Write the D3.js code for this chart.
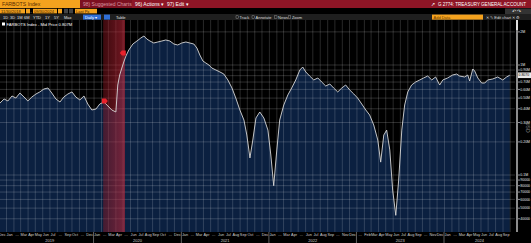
<!DOCTYPE html>
<html>
<head>
<meta charset="utf-8">
<script src="https://cdn.jsdelivr.net/npm/d3@7"></script>
<style>
  body { margin: 0; background: #000; }
  svg { display: block; font-family: "Liberation Sans", Arial, sans-serif; }
</style>
</head>
<body>
<div id="chart"></div>
<script>
// DATA (USD millions)
let tgaDates = [
  '2018-12-07','2018-12-24','2019-01-09','2019-01-26','2019-02-11','2019-02-28','2019-03-17','2019-04-02',
  '2019-04-19','2019-05-06','2019-05-22','2019-06-08','2019-06-25','2019-07-11','2019-07-28','2019-08-14',
  '2019-08-30','2019-09-16','2019-10-03','2019-10-19','2019-11-05','2019-11-22','2019-12-08','2019-12-25',
  '2020-01-11','2020-01-27','2020-02-13','2020-03-01','2020-03-17','2020-04-03',
  '2020-04-11','2020-04-19','2020-04-28','2020-05-06','2020-05-15','2020-05-27','2020-06-13','2020-06-30',
  '2020-07-16','2020-07-29','2020-08-10','2020-08-23','2020-09-08','2020-09-25','2020-10-12','2020-10-28',
  '2020-11-14','2020-12-01','2020-12-17','2021-01-03','2021-01-20','2021-02-05','2021-02-22','2021-03-07',
  '2021-03-19','2021-04-01','2021-04-13','2021-04-26',
  '2021-05-08','2021-05-25','2021-06-11','2021-06-27','2021-07-14','2021-07-31','2021-08-16','2021-09-02',
  '2021-09-19','2021-10-01','2021-10-14','2021-10-26','2021-11-08','2021-11-24','2021-12-11','2021-12-28',
  '2022-01-09','2022-01-21','2022-02-03','2022-02-15','2022-03-04','2022-03-21','2022-04-06','2022-04-23',
  '2022-05-10','2022-05-22','2022-06-04','2022-06-20','2022-07-07','2022-07-24','2022-08-09','2022-08-26',
  '2022-09-12','2022-09-28','2022-10-15','2022-11-01','2022-11-17','2022-12-04','2022-12-21','2023-01-06',
  '2023-01-23','2023-02-09','2023-02-25','2023-03-14','2023-03-31','2023-04-12','2023-04-25','2023-05-07',
  '2023-05-20','2023-06-01','2023-06-14','2023-06-26','2023-07-09','2023-07-21','2023-08-03','2023-08-19',
  '2023-09-05','2023-09-22','2023-10-08','2023-10-25','2023-11-11','2023-11-27','2023-12-14','2023-12-27',
  '2024-01-16','2024-02-06','2024-02-23','2024-03-06','2024-03-27','2024-04-09','2024-04-17','2024-04-30',
  '2024-05-08','2024-05-21','2024-06-06','2024-06-19','2024-07-01','2024-07-22','2024-08-12','2024-09-02',
  '2024-09-18','2024-10-01'
];
let tgaValues = [
  451000,491000,471000,523000,501000,556000,512000,471000,
  512000,545000,569000,605000,618000,556000,491000,461000,
  512000,545000,569000,512000,481000,523000,442000,390000,
  398000,442000,461000,424000,390000,374000,
  658000,811000,939000,1065000,1207000,1369000,1552000,1653000,
  1759000,1835000,1723000,1653000,1585000,1619000,1653000,1688000,
  1653000,1552000,1520000,1585000,1619000,1585000,1552000,1427000,
  1233000,1087000,1043000,1000000,
  939000,901000,864000,828000,731000,618000,501000,390000,
  316000,231000,143000,208000,330000,374000,330000,256000,
  152000,80000,169000,316000,433000,534000,618000,731000,
  901000,959000,864000,794000,731000,762000,701000,644000,
  672000,618000,569000,618000,658000,593000,545000,501000,
  442000,390000,351000,285000,208000,131000,231000,256000,
  169000,73000,43000,90000,256000,433000,569000,658000,
  701000,731000,762000,794000,731000,778000,658000,731000,
  762000,811000,828000,794000,778000,811000,716000,920000,
  882000,762000,686000,686000,731000,746000,778000,731000,
  778000,807000
];

// shaded period and annotation markers
let bandStart = '2020-02-10', bandEnd = '2020-05-11';
let markerDates = ['2020-02-17', '2020-05-02'];
let markerValues = [471000, 1286000];

// 0.80M gridline is drawn, its label sits under the last-value box
let yTicks = [2e6, 1e6, 9e5, 8e5, 7e5, 6e5, 5e5, 4e5, 3e5, 2e5, 1e5, 9e4, 8e4, 7e4, 6e4, 5e4, 4e4];
let yTickLabels = ['2M','1M','0.90M','','0.70M','0.60M','0.50M','0.40M','0.30M','0.20M','0.1M',
                   '90000','80000','70000','60000','50000','40000'];

let monthLabels = [
  'Dec',
  'Jan','…','Mar','Apr','May','Jun','Jul','…','Sep','Oct','…','Dec',
  'Jan','…','Mar','Apr','…','Jun','Jul','Aug','Sep','Oct','…','Dec',
  'Jan','…','Mar','Apr','…','Jun','Jul','Aug','Sep','Oct','…','Dec',
  'Jan','…','Mar','Apr','…','Jun','Jul','Aug','Sep','…','Nov','Dec',
  '…','Feb','Mar','Apr','May','Jun','Jul','Aug','Sep','…','Nov','Dec',
  'Jan','…','Mar','Apr','May','Jun','Jul','Aug','Sep'
];
let yearLabels = ['2019', '2020', '2021', '2022', '2023', '2024'];

let rangeButtons = ['1D','3D','1M','6M','YTD','1Y','5Y','Max'];
let toolItems = ['Track','Annotate','News','Zoom'];

// LAYOUT
let W = 531, H = 243;
let plot = {left: 0, right: 515, top: 20, bottom: 232};
let axisX = 517;

let parse = d3.timeParse('%Y-%m-%d');
let data = tgaDates.map((d, i) => ({date: parse(d), value: tgaValues[i]}));
let last = data[data.length - 1];

let svg = d3.select('#chart').append('svg')
    .attr('width', W)
    .attr('height', H);

svg.append('rect').attr('width', W).attr('height', H).attr('fill', '#000');

let x = d3.scaleTime()
    .domain([parse('2019-01-01'), parse('2024-01-01')])
    .range([6, 444]);

let y = d3.scaleLog()
    .domain([30340, 2565000])
    .range([plot.bottom, plot.top]);

let defs = svg.append('defs');
defs.append('clipPath').attr('id', 'plotclip')
    .append('rect')
    .attr('x', plot.left).attr('y', plot.top)
    .attr('width', plot.right - plot.left).attr('height', plot.bottom - plot.top);

let grad = defs.append('linearGradient').attr('id', 'bandgrad')
    .attr('x1', 0).attr('x2', 1).attr('y1', 0).attr('y2', 0);
grad.append('stop').attr('offset', '0%').attr('stop-color', '#8a1620').attr('stop-opacity', 0.45);
grad.append('stop').attr('offset', '100%').attr('stop-color', '#c0283a').attr('stop-opacity', 0.6);

let g = svg.append('g').attr('clip-path', 'url(#plotclip)');

// area + line
g.append('path')
    .datum(data)
    .attr('fill', '#0b2040')
    .attr('d', d3.area().x(d => x(d.date)).y0(plot.bottom).y1(d => y(d.value)));

// gridlines
let months = d3.timeMonth.range(new Date(2018, 11, 1), new Date(2024, 10, 1));
g.selectAll('.vgrid')
    .data(months)
    .enter()
    .append('line')
    .attr('class', 'vgrid')
    .attr('x1', d => x(d) + 0.5).attr('x2', d => x(d) + 0.5)
    .attr('y1', plot.top).attr('y2', plot.bottom)
    .attr('stroke', 'rgba(255,255,255,0.2)')
    .attr('stroke-width', 0.8);

g.selectAll('.hgrid')
    .data(yTicks)
    .enter()
    .append('line')
    .attr('class', 'hgrid')
    .attr('x1', plot.left).attr('x2', plot.right)
    .attr('y1', d => y(d)).attr('y2', d => y(d))
    .attr('stroke', 'rgba(255,255,255,0.22)')
    .attr('stroke-width', 0.8);

// shaded period
g.append('rect')
    .attr('x', x(parse(bandStart)))
    .attr('y', plot.top)
    .attr('width', x(parse(bandEnd)) - x(parse(bandStart)))
    .attr('height', plot.bottom - plot.top)
    .attr('fill', 'url(#bandgrad)');

g.append('path')
    .datum(data)
    .attr('fill', 'none')
    .attr('stroke', '#d8d8d8')
    .attr('stroke-width', 0.9)
    .attr('d', d3.line().x(d => x(d.date)).y(d => y(d.value)));

// annotation markers
markerDates.forEach((d, i) => {
    let mx = x(parse(d)), my = y(markerValues[i]);
    let pts = i === 0
        ? [[mx - 3, my - 2.5], [mx + 1, my - 2.5], [mx + 3, my], [mx + 1, my + 2.5], [mx - 3, my + 2.5]]
        : [[mx + 3, my - 2.5], [mx - 1, my - 2.5], [mx - 3, my], [mx - 1, my + 2.5], [mx + 3, my + 2.5]];
    g.append('polygon')
        .attr('points', pts.map(p => p.join(',')).join(' '))
        .attr('fill', '#e8222c');
});

// legend row
svg.append('rect').attr('x', 2).attr('y', 22.5).attr('width', 3).attr('height', 3).attr('fill', '#fff');
svg.append('text')
    .attr('x', 6.5).attr('y', 25.8)
    .attr('font-size', 4.1).attr('fill', '#fff')
    .text('FARBOTS Index - Mid Price ' + d3.format('.3f')(last.value / 1e6) + 'M');

// RIGHT AXIS
svg.append('line')
    .attr('x1', axisX).attr('x2', axisX)
    .attr('y1', 14).attr('y2', plot.bottom)
    .attr('stroke', '#8c8c8c').attr('stroke-width', 2);
svg.append('line')
    .attr('x1', axisX).attr('x2', axisX)
    .attr('y1', 14).attr('y2', 30)
    .attr('stroke', '#e0e0e0').attr('stroke-width', 2);

let yAxis = svg.append('g');
yTicks.forEach((t, i) => {
    yAxis.append('line')
        .attr('x1', axisX + 1).attr('x2', axisX + 3)
        .attr('y1', y(t)).attr('y2', y(t))
        .attr('stroke', '#ccc').attr('stroke-width', 0.7);
    if (yTickLabels[i]) {
        yAxis.append('text')
            .attr('x', axisX + 3.3).attr('y', y(t))
            .attr('dy', '0.35em')
            .attr('font-size', 3.5).attr('fill', '#e6e6e6')
            .text(yTickLabels[i]);
    }
});

// last value box
let ly = y(last.value);
svg.append('rect')
    .attr('x', axisX + 1).attr('y', ly - 2.8)
    .attr('width', W - axisX - 1).attr('height', 5.6)
    .attr('fill', '#e8e8e8');
svg.append('text')
    .attr('x', axisX + 1.5).attr('y', ly).attr('dy', '0.35em')
    .attr('font-size', 3.5).attr('fill', '#000')
    .text(d3.format('.4f')(last.value / 1e6));

svg.append('text')
    .attr('transform', 'translate(526,122) rotate(90)')
    .attr('font-size', 5).attr('fill', '#8a8a8a')
    .text('USD');

// BOTTOM AXIS
svg.selectAll('.mlab')
    .data(months.slice(0, monthLabels.length))
    .enter()
    .append('text')
    .attr('class', 'mlab')
    .attr('x', d => x(d3.timeDay.offset(d, 15)))
    .attr('y', 236.2)
    .attr('text-anchor', 'middle')
    .attr('font-size', 3.8).attr('fill', '#cfcfcf')
    .text((d, i) => monthLabels[i]);

yearLabels.forEach(yr => {
    let s = Math.max(x(parse(yr + '-01-01')), plot.left);
    let e = Math.min(x(parse((+yr + 1) + '-01-01')), plot.right);
    svg.append('text')
        .attr('x', (s + e) / 2).attr('y', 241.5)
        .attr('text-anchor', 'middle')
        .attr('font-size', 4).attr('fill', '#cfcfcf')
        .text(yr);
    if (+yr > 2019) {
        svg.append('line')
            .attr('x1', s).attr('x2', s)
            .attr('y1', plot.bottom).attr('y2', H)
            .attr('stroke', '#8a8a8a').attr('stroke-width', 0.7);
    }
});

// HEADER
svg.append('rect').attr('x', 0).attr('y', 0).attr('width', W).attr('height', 8).attr('fill', '#8e1526');
svg.append('rect').attr('x', 0).attr('y', 0).attr('width', 80).attr('height', 8).attr('fill', '#f4a21e');
svg.append('text').attr('x', 2).attr('y', 5.8).attr('font-size', 5.2).attr('fill', '#5a2e00').text('FARBOTS Index');
svg.append('rect').attr('x', 80).attr('y', 0).attr('width', 52).attr('height', 8).attr('fill', '#7c1020');
svg.append('text').attr('x', 83).attr('y', 5.8).attr('font-size', 5).attr('fill', '#d99aa4').text('98) Suggested Charts');
svg.append('text').attr('x', 135).attr('y', 5.8).attr('font-size', 5).attr('fill', '#fff').text('96) Actions ▾');
svg.append('text').attr('x', 167).attr('y', 5.8).attr('font-size', 5).attr('fill', '#fff').text('97) Edit ▾');
svg.append('text').attr('x', 431).attr('y', 5.8).attr('font-size', 4.6).attr('fill', '#fff').text('↗');
svg.append('text').attr('x', 438).attr('y', 5.8).attr('font-size', 4.6).attr('fill', '#fff')
    .attr('textLength', 88).attr('lengthAdjust', 'spacingAndGlyphs')
    .text('G 2774: TREASURY GENERAL ACCOUNT');

// row 2: date range inputs
let row2 = [
    {x: 0, w: 25, t: '11/30/2018', fill: '#f4a21e'},
    {x: 26, w: 4, t: '', fill: '#f4a21e'},
    {x: 33, w: 24, t: '09/30/2024', fill: '#f4a21e'},
    {x: 58, w: 4, t: '', fill: '#f4a21e'},
    {x: 64, w: 4, t: '', fill: '#444'},
    {x: 69, w: 4, t: '', fill: '#444'},
    {x: 75, w: 22, t: 'Last Px', fill: '#f4a21e'}
];
row2.forEach(b => {
    svg.append('rect').attr('x', b.x).attr('y', 8.8).attr('width', b.w).attr('height', 4.6).attr('fill', b.fill);
    svg.append('text').attr('x', b.x + 1).attr('y', 12.6).attr('font-size', 4).attr('fill', '#3a2000').text(b.t);
});
svg.append('text').attr('x', 30.6).attr('y', 12.6).attr('font-size', 4).attr('fill', '#ccc').text('-');
svg.append('rect').attr('x', 505).attr('y', 8.5).attr('width', 26).attr('height', 5.5).attr('fill', '#333');
svg.append('text').attr('x', 512).attr('y', 12.8).attr('font-size', 4.5).attr('fill', '#ddd').text('↶  ↷');

// row 3: toolbar
svg.append('rect').attr('x', 0).attr('y', 14).attr('width', W).attr('height', 6).attr('fill', '#1f1f1f');
let bx = [3, 10, 17, 24, 33, 45, 54, 64];
rangeButtons.forEach((b, i) => {
    svg.append('text').attr('x', bx[i]).attr('y', 18.6).attr('font-size', 4).attr('fill', '#e0e0e0').text(b);
});
svg.append('rect').attr('x', 83).attr('y', 14.6).attr('width', 18).attr('height', 5).attr('fill', '#2f6fd8');
svg.append('text').attr('x', 85).attr('y', 18.6).attr('font-size', 4).attr('fill', '#fff').text('Daily ▾');
svg.append('rect').attr('x', 104).attr('y', 14.6).attr('width', 6).attr('height', 5).attr('fill', '#2f6fd8');
svg.append('text').attr('x', 116).attr('y', 18.6).attr('font-size', 4).attr('fill', '#e0e0e0').text('Table');

let tx = 236;
toolItems.forEach(t => {
    svg.append('rect').attr('x', tx).attr('y', 15.8).attr('width', 2.4).attr('height', 2.4)
        .attr('fill', 'none').attr('stroke', '#aaa').attr('stroke-width', 0.4);
    svg.append('text').attr('x', tx + 3.5).attr('y', 18.6).attr('font-size', 4).attr('fill', '#ddd').text(t);
    tx += 5 + t.length * 2.2;
});

svg.append('rect').attr('x', 432).attr('y', 14.6).attr('width', 51).attr('height', 5).attr('fill', '#f4a21e');
svg.append('text').attr('x', 433.5).attr('y', 18.6).attr('font-size', 4).attr('fill', '#6b3a00').text('Add Data');
svg.append('text').attr('x', 486).attr('y', 18.6).attr('font-size', 4).attr('fill', '#ddd').text('✕ ✎ Edit chart ✕ ⚙');
</script>
</body>
</html>
